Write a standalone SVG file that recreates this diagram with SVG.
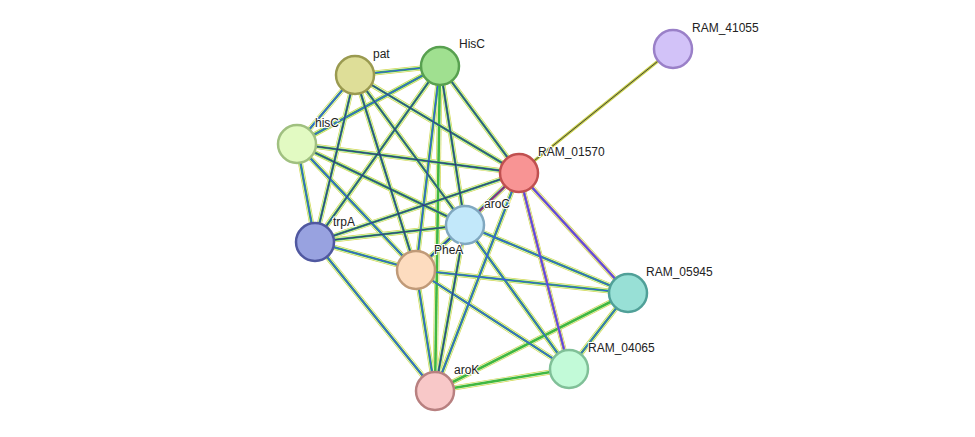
<svg xmlns="http://www.w3.org/2000/svg" width="975" height="437" viewBox="0 0 975 437">
<style>
.e line{stroke-linecap:round}
.a{stroke:#d0d850;stroke-width:5}
.w{stroke:#ffffff;stroke-width:3.6}
.b{stroke:#40b840;stroke-width:2.6}
.c{stroke:#3858e8;stroke-width:1.2}
.d{stroke:#303030;stroke-width:0.6}
.n circle{stroke-width:2.5}
text{font-family:"Liberation Sans",Arial,sans-serif;font-size:12px;fill:#222;paint-order:stroke;stroke:#fff;stroke-width:2px}
</style>
<rect width="975" height="437" fill="#fff"/>
<defs>
<path id="e1" d="M355,75L440,66"/><path id="e2" d="M355,75L297,144"/><path id="e3" d="M355,75L315,242"/>
<path id="e4" d="M355,75L465,225"/><path id="e5" d="M355,75L416,270"/><path id="e6" d="M355,75L519,173"/>
<path id="e7" d="M440,66L297,144"/><path id="e8" d="M440,66L315,242"/><path id="e9" d="M440,66L465,225"/>
<path id="e10" d="M440,66L416,270"/><path id="e11" d="M440,66L519,173"/><path id="e12" d="M440,66L435,391"/>
<path id="e13" d="M297,144L315,242"/><path id="e14" d="M297,144L465,225"/><path id="e15" d="M297,144L416,270"/>
<path id="e16" d="M297,144L519,173"/><path id="e17" d="M315,242L465,225"/><path id="e18" d="M315,242L416,270"/>
<path id="e19" d="M315,242L519,173"/><path id="e20" d="M315,242L435,391"/><path id="e21" d="M519,173L465,225"/>
<path id="e22" d="M519,173L416,270"/><path id="e23" d="M519,173L628,293"/><path id="e24" d="M519,173L569,369"/>
<path id="e25" d="M519,173L435,391"/><path id="e26" d="M465,225L416,270"/><path id="e27" d="M465,225L628,293"/>
<path id="e28" d="M465,225L569,369"/><path id="e29" d="M465,225L435,391"/><path id="e30" d="M416,270L628,293"/>
<path id="e31" d="M416,270L569,369"/><path id="e32" d="M416,270L435,391"/><path id="e33" d="M628,293L569,369"/>
<path id="e34" d="M628,293L435,391"/><path id="e35" d="M569,369L435,391"/>
</defs>
<g id="edges" class="e" fill="none">
<line x1="519" y1="173" x2="673" y2="49" stroke="#c8d048" stroke-width="3"/>
<line x1="519" y1="173" x2="673" y2="49" stroke="#404040" stroke-width="1"/>
<g class="a"><use href="#e1"/><use href="#e2"/><use href="#e3"/><use href="#e4"/><use href="#e5"/><use href="#e6"/><use href="#e7"/><use href="#e8"/><use href="#e9"/><use href="#e10"/><use href="#e11"/><use href="#e12"/><use href="#e13"/><use href="#e14"/><use href="#e15"/><use href="#e16"/><use href="#e17"/><use href="#e18"/><use href="#e19"/><use href="#e20"/><use href="#e21"/><use href="#e22"/><use href="#e23"/><use href="#e24"/><use href="#e25"/><use href="#e26"/><use href="#e27"/><use href="#e28"/><use href="#e29"/><use href="#e30"/><use href="#e31"/><use href="#e32"/><use href="#e33"/><use href="#e34"/><use href="#e35"/></g>
<g class="w"><use href="#e1"/><use href="#e2"/><use href="#e3"/><use href="#e4"/><use href="#e5"/><use href="#e6"/><use href="#e7"/><use href="#e8"/><use href="#e9"/><use href="#e10"/><use href="#e11"/><use href="#e12"/><use href="#e13"/><use href="#e14"/><use href="#e15"/><use href="#e16"/><use href="#e17"/><use href="#e18"/><use href="#e19"/><use href="#e20"/><use href="#e21"/><use href="#e22"/><use href="#e23"/><use href="#e24"/><use href="#e25"/><use href="#e26"/><use href="#e27"/><use href="#e28"/><use href="#e29"/><use href="#e30"/><use href="#e31"/><use href="#e32"/><use href="#e33"/><use href="#e34"/><use href="#e35"/></g>
<g class="b"><use href="#e1"/><use href="#e2"/><use href="#e3"/><use href="#e4"/><use href="#e5"/><use href="#e6"/><use href="#e7"/><use href="#e8"/><use href="#e9"/><use href="#e10"/><use href="#e11"/><use href="#e12"/><use href="#e13"/><use href="#e14"/><use href="#e15"/><use href="#e16"/><use href="#e17"/><use href="#e18"/><use href="#e19"/><use href="#e20"/><use href="#e21"/><use href="#e22"/><use href="#e23"/><use href="#e24"/><use href="#e25"/><use href="#e26"/><use href="#e27"/><use href="#e28"/><use href="#e29"/><use href="#e30"/><use href="#e31"/><use href="#e32"/><use href="#e33"/><use href="#e34"/><use href="#e35"/></g>
<line x1="519" y1="173" x2="465" y2="225" stroke="#d040c0" stroke-width="2.4"/>
<line x1="519" y1="173" x2="569" y2="369" stroke="#d040c0" stroke-width="2.4"/>
<line x1="519" y1="173" x2="628" y2="293" stroke="#d040c0" stroke-width="2.4"/>
<g class="c"><use href="#e1"/><use href="#e2"/><use href="#e3"/><use href="#e4"/><use href="#e5"/><use href="#e6"/><use href="#e7"/><use href="#e8"/><use href="#e9"/><use href="#e10"/><use href="#e11"/><use href="#e13"/><use href="#e14"/><use href="#e15"/><use href="#e16"/><use href="#e17"/><use href="#e18"/><use href="#e19"/><use href="#e20"/><use href="#e21"/><use href="#e22"/><use href="#e23"/><use href="#e24"/><use href="#e25"/><use href="#e26"/><use href="#e27"/><use href="#e28"/><use href="#e29"/><use href="#e30"/><use href="#e31"/><use href="#e32"/><use href="#e33"/></g>
<g class="d"><use href="#e3"/><use href="#e4"/><use href="#e5"/><use href="#e6"/><use href="#e8"/><use href="#e9"/><use href="#e11"/><use href="#e14"/><use href="#e16"/><use href="#e17"/><use href="#e19"/><use href="#e21"/><use href="#e22"/><use href="#e29"/></g>
<line x1="519" y1="173" x2="465" y2="225" stroke="#e03030" stroke-width="0.8"/>
</g>
<g class="n">
<g id="RAM_41055"><circle cx="673" cy="49" r="19" fill="#d2c2f8" stroke="#9a80c8"/><text x="692" y="32">RAM_41055</text></g>
<g id="pat"><circle cx="355" cy="75" r="19" fill="#dede98" stroke="#9a9a50"/><text x="373" y="58">pat</text></g>
<g id="HisC"><circle cx="440" cy="66" r="19" fill="#a0e090" stroke="#58a050"/><text x="459" y="48">HisC</text></g>
<g id="hisC"><circle cx="297" cy="144" r="19" fill="#e2fac2" stroke="#a0c080"/><text x="315" y="127">hisC</text></g>
<g id="RAM_01570"><circle cx="519" cy="173" r="19" fill="#f89494" stroke="#c05050"/><text x="538" y="156">RAM_01570</text></g>
<g id="aroC"><circle cx="465" cy="225" r="19" fill="#c2e8fa" stroke="#80a8c0"/><text x="484" y="208">aroC</text></g>
<g id="trpA"><circle cx="315" cy="242" r="19" fill="#98a2e0" stroke="#5058a0"/><text x="333" y="226">trpA</text></g>
<g id="PheA"><circle cx="416" cy="270" r="19" fill="#fddcbf" stroke="#c09a78"/><text x="434" y="254">PheA</text></g>
<g id="RAM_05945"><circle cx="628" cy="293" r="19" fill="#98e0d6" stroke="#50a098"/><text x="646" y="276">RAM_05945</text></g>
<g id="RAM_04065"><circle cx="569" cy="369" r="19" fill="#c2fad8" stroke="#80c098"/><text x="588" y="352">RAM_04065</text></g>
<g id="aroK"><circle cx="435" cy="391" r="19" fill="#f8c8c8" stroke="#b88080"/><text x="454" y="374">aroK</text></g>
</g>
</svg>
